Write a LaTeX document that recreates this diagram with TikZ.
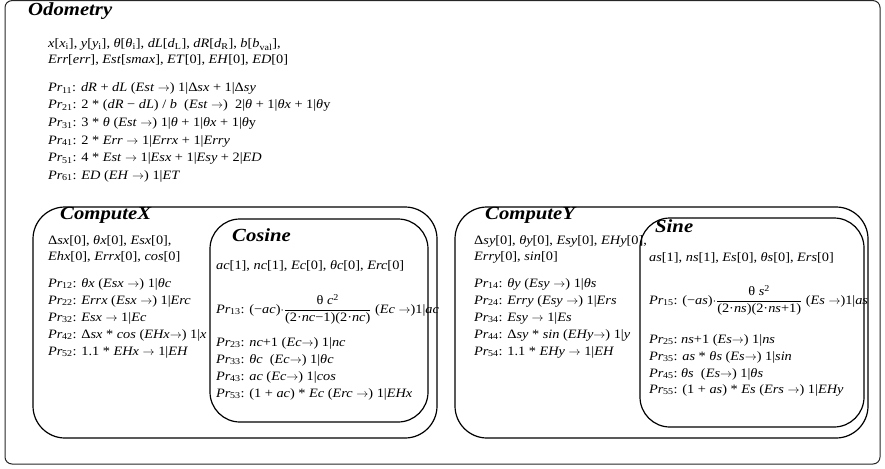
\documentclass[tikz,border=0pt]{standalone}
\usepackage{fontspec}
\usepackage{amsmath}
\setmainfont[FakeStretch=1.12]{Liberation Serif}
\newfontfamily\ttlfont[FakeStretch=1.12]{Liberation Serif}
\newcommand{\iv}[1]{\textit{#1}}
\newcommand{\ra}{$\rightarrow$}
\newcommand{\PR}[1]{\textit{Pr}\textsubscript{\kern-0.5pt #1}:}
\begin{document}
\begin{tikzpicture}[x=1pt,y=-1pt,
  txt/.style={anchor=base west,inner sep=0pt,font=\fontsize{12.8}{14}\selectfont},
  ttl/.style={anchor=base west,inner sep=0pt,font=\fontsize{18.5}{20}\ttlfont\bfseries\itshape},
  memb/.style={draw=black,line width=1.2pt,rounded corners=32pt},
  skin/.style={draw=black!85,line width=1pt,rounded corners=7pt}]
\useasboundingbox (0,0) rectangle (885,468);
\draw[skin] (5,0.6) rectangle (880,464);
% Odometry
\node[ttl] (odo) at (28,16) {Odometry};
\node[txt] (ov1) at (48,48) {\iv{x}[\iv{x}\textsubscript{i}], \iv{y}[\iv{y}\textsubscript{i}], \iv{θ}[\iv{θ}\textsubscript{i}], \iv{dL}[\iv{d}\textsubscript{L}], \iv{dR}[\iv{d}\textsubscript{R}], \iv{b}[\iv{b}\textsubscript{val}],};
\node[txt] (ov2) at (48,64) {\iv{Err}[\iv{err}], \iv{Est}[\iv{smax}], \iv{ET}[0], \iv{EH}[0], \iv{ED}[0]};
\node[txt] (p11) at (48,92) {\PR{11} \iv{dR} + \iv{dL} (\iv{Est} \ra) 1|Δ\iv{sx} + 1|Δ\iv{sy}};
\node[txt] (p21) at (48,109) {\PR{21} 2 * (\iv{dR} − \iv{dL}) / \iv{b}\ \ (\iv{Est} \ra)\ \ 2|\iv{θ} + 1|\iv{θx} + 1|\iv{θ}y};
\node[txt] (p31) at (48,126.5) {\PR{31} 3 * \iv{θ} (\iv{Est} \ra) 1|\iv{θ} + 1|\iv{θx} + 1|\iv{θ}y};
\node[txt] (p41) at (48,144) {\PR{41} 2 * \iv{Err} \ra\ 1|\iv{Errx} + 1|\iv{Erry}};
\node[txt] (p51) at (48,161.5) {\PR{51} 4 * \iv{Est} \ra\ 1|\iv{Esx} + 1|\iv{Esy} + 2|\iv{ED}};
\node[txt] (p61) at (48,179) {\PR{61} \iv{ED} (\iv{EH} \ra) 1|\iv{ET}};
% ComputeX
\draw[memb] (33,207) rectangle (437,438);
\node[ttl] (cx) at (60,219) {ComputeX};
\node[txt] (cxv1) at (48,244) {Δ\iv{sx}[0], \iv{θx}[0], \iv{Esx}[0],};
\node[txt] (cxv2) at (48,260) {\iv{Ehx}[0], \iv{Errx}[0], \iv{cos}[0]};
\node[txt] (p12) at (48,287) {\PR{12} \iv{θx} (\iv{Esx} \ra) 1|\iv{θc}};
\node[txt] (p22) at (48,304) {\PR{22} \iv{Errx} (\iv{Esx} \ra) 1|\iv{Erc}};
\node[txt] (p32) at (48,321) {\PR{32} \iv{Esx} \ra\ 1|\iv{Ec}};
\node[txt] (p42) at (48,338) {\PR{42} Δ\iv{sx} * \iv{cos} (\iv{EHx}\ra) 1|\iv{x}};
\node[txt] (p52) at (48,355) {\PR{52} 1.1 * \iv{EHx} \ra\ 1|\iv{EH}};
% Cosine
\draw[memb,rounded corners=30pt] (210,219) rectangle (428,422);
\node[ttl] (cos) at (232,241) {Cosine};
\node[txt] (cov) at (216,269) {\iv{ac}[1], \iv{nc}[1], \iv{Ec}[0], \iv{θc}[0], \iv{Erc}[0]};
\node[txt] (p13) at (216,313) {\PR{13} (−\iv{ac})$\cdot\dfrac{\text{θ \iv{c}\textsuperscript{2}}}{\text{(2·\iv{nc}−1)(2·\iv{nc})}}$\ (\iv{Ec} \ra)1|\iv{ac}};
\node[txt] (p23) at (216,346) {\PR{23} \iv{nc}+1 (\iv{Ec}\ra) 1|\iv{nc}};
\node[txt] (p33) at (216,363) {\PR{33} \iv{θc}\ \ (\iv{Ec}\ra) 1|\iv{θc}};
\node[txt] (p43) at (216,380) {\PR{43} \iv{ac} (\iv{Ec}\ra) 1|\iv{cos}};
\node[txt] (p53) at (216,397) {\PR{53} (1 + \iv{ac}) * \iv{Ec} (\iv{Erc} \ra) 1|\iv{EHx}};
% ComputeY
\draw[memb] (455,207) rectangle (868,438);
\node[ttl] (cy) at (485,219) {ComputeY};
\node[txt] (cyv1) at (474,244) {Δ\iv{sy}[0], \iv{θy}[0], \iv{Esy}[0], \iv{EHy}[0],};
\node[txt] (cyv2) at (474,260) {\iv{Erry}[0], \iv{sin}[0]};
\node[txt] (p14) at (474,287) {\PR{14} \iv{θy} (\iv{Esy} \ra) 1|\iv{θs}};
\node[txt] (p24) at (474,304) {\PR{24} \iv{Erry} (\iv{Esy} \ra) 1|\iv{Ers}};
\node[txt] (p34) at (474,321) {\PR{34} \iv{Esy} \ra\ 1|\iv{Es}};
\node[txt] (p44) at (474,338) {\PR{44} Δ\iv{sy} * \iv{sin} (\iv{EHy}\ra) 1|\iv{y}};
\node[txt] (p54) at (474,355) {\PR{54} 1.1 * \iv{EHy} \ra\ 1|\iv{EH}};
% Sine
\draw[memb,rounded corners=30pt] (640,218) rectangle (864,427);
\node[ttl] (sin) at (655,232) {Sine};
\node[txt] (siv) at (649,261) {\iv{as}[1], \iv{ns}[1], \iv{Es}[0], \iv{θs}[0], \iv{Ers}[0]};
\node[txt] (p15) at (649,304) {\PR{15} (−\iv{as})$\cdot\dfrac{\text{θ \iv{s}\textsuperscript{2}}}{\text{(2·\iv{ns})(2·\iv{ns}+1)}}$\ (\iv{Es} \ra)1|\iv{as}};
\node[txt] (p25) at (649,343) {\PR{25}\ \iv{ns}+1 (\iv{Es}\ra) 1|\iv{ns}};
\node[txt] (p35) at (649,360) {\PR{35} \iv{as} * \iv{θs} (\iv{Es}\ra) 1|\iv{sin}};
\node[txt] (p45) at (649,377) {\PR{45}\ \iv{θs}\ \ (\iv{Es}\ra) 1|\iv{θs}};
\node[txt] (p55) at (649,393) {\PR{55} (1 + \iv{as}) * \iv{Es} (\iv{Ers} \ra) 1|\iv{EHy}};
\end{tikzpicture}
\end{document}
